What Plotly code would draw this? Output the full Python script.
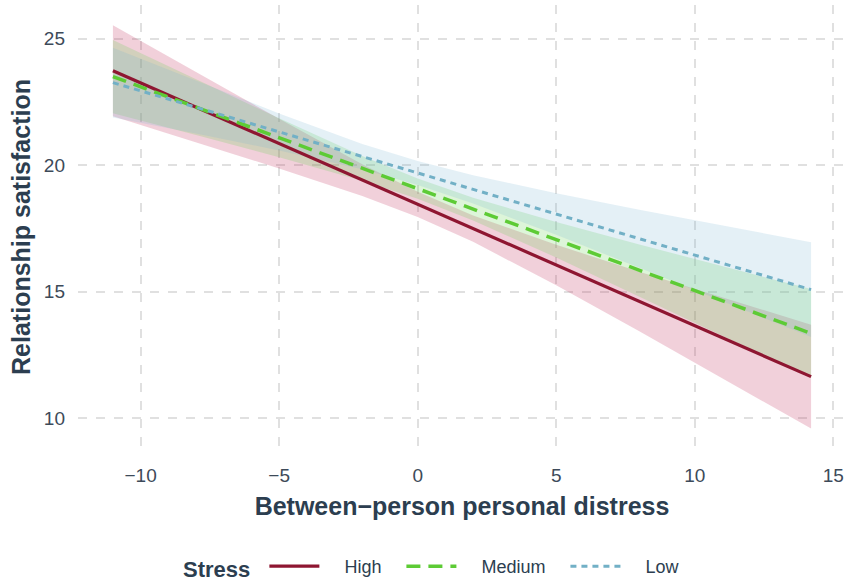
import plotly.graph_objects as go

# predicted relationship satisfaction by between-person distress, per stress level
distress = [-11, -8, -5, -2, 0, 2, 5, 8, 11, 14.2]

high_fit = [23.73, 22.29, 20.85, 19.41, 18.45, 17.49, 16.05, 14.61, 13.17, 11.64]
high_lo = [21.93, 20.91, 19.87, 18.78, 17.95, 16.97, 15.25, 13.43, 11.58, 9.59]
high_hi = [25.53, 23.67, 21.83, 20.04, 18.95, 18.01, 16.85, 15.79, 14.76, 13.69]

med_fit = [23.50, 22.29, 21.08, 19.87, 19.07, 18.26, 17.05, 15.84, 14.63, 13.35]
med_lo = [22.05, 21.19, 20.31, 19.38, 18.67, 17.81, 16.35, 14.82, 13.26, 11.60]
med_hi = [24.95, 23.39, 21.85, 20.36, 19.47, 18.71, 17.75, 16.86, 16.00, 15.10]

low_fit = [23.26, 22.29, 21.31, 20.34, 19.69, 19.04, 18.07, 17.09, 16.12, 15.08]
low_lo = [21.88, 21.25, 20.58, 19.84, 19.22, 18.48, 17.25, 15.94, 14.63, 13.21]
low_hi = [24.64, 23.33, 22.04, 20.84, 20.16, 19.60, 18.89, 18.24, 17.61, 16.95]

x_ticks = [-10, -5, 0, 5, 10, 15]
y_ticks = [10, 15, 20, 25]

series = [
    ('High', high_fit, high_lo, high_hi, '#8E1631', 'rgba(196,60,100,0.24)', 'solid', 3.2),
    ('Medium', med_fit, med_lo, med_hi, '#5DCB35', 'rgba(100,210,80,0.22)', '14px,8px', 3.5),
    ('Low', low_fit, low_lo, low_hi, '#72B0C6', 'rgba(120,180,210,0.2)', '6px,5px', 3),
]

text_col = '#2C3E50'
font_family = 'Liberation Sans, Arial, sans-serif'
pad = '\u00a0'

fig = go.Figure()

# ribbons first
for name, fit, lo, hi, col, fill, dash, w in series:
    fig.add_trace(go.Scatter(
        x=distress + distress[::-1],
        y=hi + lo[::-1],
        fill='toself',
        fillcolor=fill,
        line=dict(width=0),
        mode='lines',
        hoverinfo='skip',
        showlegend=False
    ))

# then the fitted lines on top
for name, fit, lo, hi, col, fill, dash, w in series:
    fig.add_trace(go.Scatter(
        x=distress,
        y=fit,
        mode='lines',
        name=pad * 4 + name + pad * 3,
        line=dict(color=col, width=w, dash=dash)
    ))

fig.update_xaxes(
    range=[-12.26, 15.46],
    tickvals=x_ticks,
    ticktext=[str(v).replace('-', '\u2212') for v in x_ticks],
    showgrid=True, gridcolor='#E0E0E0', griddash='dash', gridwidth=1.5,
    zeroline=False, showline=False, ticks='',
    tickfont=dict(size=19, color='#3D4A59'),
    ticklabelstandoff=13,
    automargin=False,
    title=dict(text='<b>Between\u2212person personal distress</b>',
               font=dict(size=25, color=text_col), standoff=12)
)
fig.update_yaxes(
    range=[8.78, 26.33],
    tickvals=y_ticks,
    showgrid=True, gridcolor='#E0E0E0', griddash='dash', gridwidth=1.5,
    zeroline=False, showline=False, ticks='',
    tickfont=dict(size=19, color='#3D4A59'),
    ticklabelstandoff=12,
    automargin=False,
    title=dict(text='<b>Relationship satisfaction</b>',
               font=dict(size=25, color=text_col), standoff=6)
)

fig.update_layout(
    width=851,
    height=585,
    margin=dict(l=78, r=5, t=5, b=136),
    plot_bgcolor='white',
    paper_bgcolor='white',
    font=dict(family=font_family, color=text_col),
    legend=dict(
        orientation='h',
        xref='container', yref='container',
        x=0.517, xanchor='center',
        y=0.03, yanchor='middle',
        title=dict(text='<b>Stress</b>' + pad, font=dict(size=22, color=text_col)),
        font=dict(size=18, color=text_col),
        itemwidth=50,
        tracegroupgap=0
    )
)

# page has a default body margin; drop it so the figure sits at the top-left
fig.write_html("out.html", config={'displayModeBar': False},
               post_script="document.body.style.margin='0';")
